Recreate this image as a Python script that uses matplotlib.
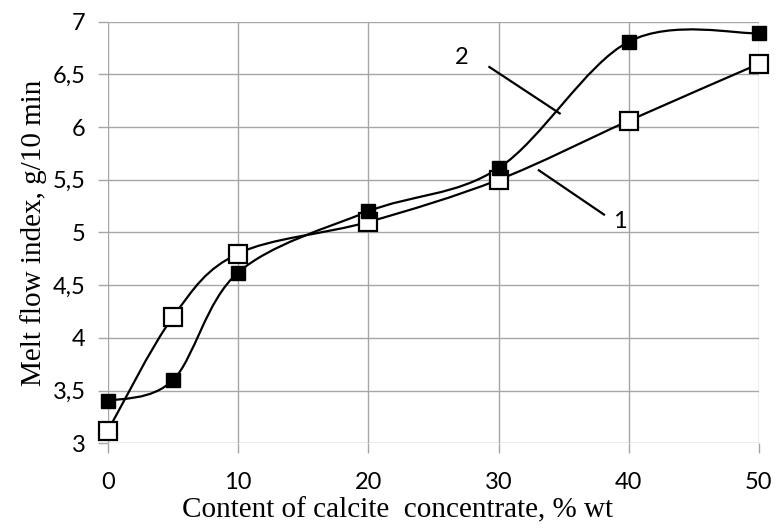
import matplotlib
matplotlib.use('Agg')
import matplotlib.pyplot as plt
from matplotlib.path import Path
from matplotlib.patches import PathPatch
import numpy as np

# data
calcite = [0, 5, 10, 20, 30, 40, 50]
mfi_1 = [3.12, 4.2, 4.8, 5.1, 5.5, 6.06, 6.6]
mfi_2 = [3.4, 3.6, 4.62, 5.2, 5.61, 6.81, 6.89]

x_ticks = [0, 10, 20, 30, 40, 50]
y_ticks = [3, 3.5, 4, 4.5, 5, 5.5, 6, 6.5, 7]


def smooth_path(xs, ys):
    # Excel-style smoothed line: Bezier segments with Catmull-Rom tangents
    pts = np.column_stack([xs, ys]).astype(float)
    n = len(pts)
    verts = [pts[0]]
    codes = [Path.MOVETO]
    for i in range(n - 1):
        p0 = pts[max(i - 1, 0)]
        p1 = pts[i]
        p2 = pts[i + 1]
        p3 = pts[min(i + 2, n - 1)]
        c1 = p1 + (p2 - p0) / 6
        c2 = p2 - (p3 - p1) / 6
        verts += [c1, c2, p2]
        codes += [Path.CURVE4] * 3
    return Path(verts, codes)


fig = plt.figure(figsize=(7.76, 5.29), dpi=100)
ax = fig.add_axes([0.139, 0.162, 0.839, 0.797])

ax.add_patch(PathPatch(smooth_path(calcite, mfi_1), facecolor='none', edgecolor='black', lw=1.6, zorder=3))
ax.add_patch(PathPatch(smooth_path(calcite, mfi_2), facecolor='none', edgecolor='black', lw=1.6, zorder=3))
ax.plot(calcite, mfi_1, linestyle='none', marker='s', markersize=13, markerfacecolor='white',
        markeredgecolor='black', markeredgewidth=1.6, zorder=4, clip_on=False)
ax.plot(calcite, mfi_2, linestyle='none', marker='s', markersize=10, markerfacecolor='black',
        markeredgecolor='black', zorder=5, clip_on=False)

# curve labels
ax.text(27.2, 6.66, '2', fontsize=17, family='Lato', ha='center', va='center')
ax.plot([29.3, 34.7], [6.57, 6.13], color='black', lw=1.6)
ax.text(39.3, 5.10, '1', fontsize=17, family='Lato', ha='center', va='center')
ax.plot([33.1, 38.1], [5.59, 5.17], color='black', lw=1.6)

ax.set_xlim(0, 50)
ax.set_ylim(3, 7)
ax.set_xticks(x_ticks)
ax.set_yticks(y_ticks)
ax.set_xticklabels([str(v) for v in x_ticks], family='Lato', fontsize=17)
ax.set_yticklabels([('%g' % v).replace('.', ',') for v in y_ticks], family='Lato', fontsize=17)
ax.tick_params(length=7, color='#a6a6a6', width=1, pad=9)
ax.tick_params(axis='x', pad=14)
ax.grid(True, color='#a6a6a6', lw=1)
for s in ax.spines.values():
    s.set_visible(False)

ax.set_xlabel('Content of calcite  concentrate, % wt', family='Liberation Serif', fontsize=21)
ax.xaxis.set_label_coords(0.445, -0.128)
ax.set_ylabel('Melt flow index, g/10 min', family='Liberation Serif', fontsize=21, labelpad=4)

fig.savefig('out.png', dpi=100)
